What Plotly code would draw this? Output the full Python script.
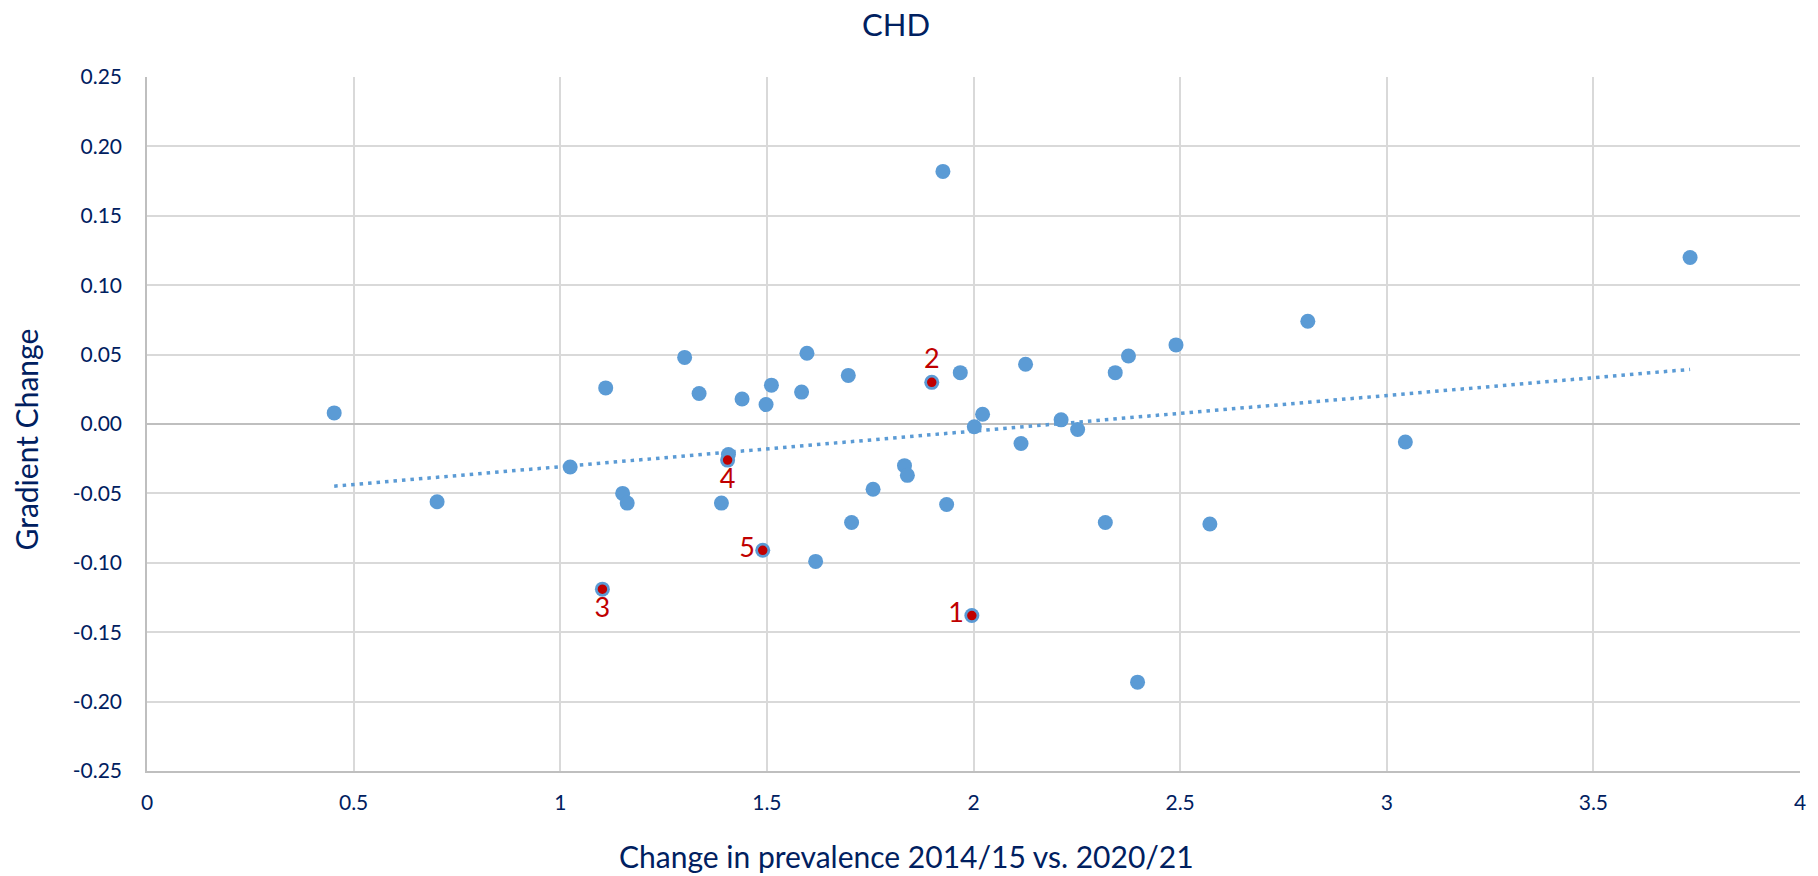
import numpy as np
import plotly.graph_objects as go

# prevalence change (x) vs gradient change (y)
x_vals = [0.453, 0.702, 1.024, 1.110, 1.151, 1.162, 1.301, 1.336, 1.390, 1.407,
          1.440, 1.498, 1.511, 1.584, 1.597, 1.618, 1.697, 1.705, 1.757, 1.833,
          1.840, 1.926, 1.935, 1.968, 2.002, 2.022, 2.115, 2.126, 2.212, 2.252,
          2.319, 2.343, 2.375, 2.397, 2.490, 2.572, 2.809, 3.045, 3.734,
          1.996, 1.899, 1.102, 1.405, 1.490]
y_vals = [0.008, -0.056, -0.031, 0.026, -0.050, -0.057, 0.048, 0.022, -0.057, -0.022,
          0.018, 0.014, 0.028, 0.023, 0.051, -0.099, 0.035, -0.071, -0.047, -0.030,
          -0.037, 0.182, -0.058, 0.037, -0.002, 0.007, -0.014, 0.043, 0.003, -0.004,
          -0.071, 0.037, 0.049, -0.186, 0.057, -0.072, 0.074, -0.013, 0.120,
          -0.138, 0.030, -0.119, -0.026, -0.091]

# highlighted points
hi_x = [1.996, 1.899, 1.102, 1.405, 1.490]
hi_y = [-0.138, 0.030, -0.119, -0.026, -0.091]
hi_labels = ["1", "2", "3", "4", "5"]
hi_pos = ["middle left", "top center", "bottom center", "bottom center", "middle left"]

x_ticks = [0, 0.5, 1, 1.5, 2, 2.5, 3, 3.5, 4]
y_ticks = [0.25, 0.20, 0.15, 0.10, 0.05, 0.00, -0.05, -0.10, -0.15, -0.20, -0.25]

blue = "#5B9BD5"
navy = "#002060"
red = "#C00000"
font = "Lato"

# linear trendline like excel
b, a = np.polyfit(x_vals, y_vals, deg=1)
xseq = np.linspace(min(x_vals), max(x_vals), 100)

fig = go.Figure()
fig.add_trace(go.Scatter(x=xseq, y=a + b * xseq, mode="lines",
                         line=dict(color=blue, width=3.5, dash="3.5px,5px"),
                         hoverinfo="skip"))
fig.add_trace(go.Scatter(x=x_vals, y=y_vals, mode="markers",
                         marker=dict(color=blue, size=15)))
fig.add_trace(go.Scatter(x=hi_x, y=hi_y, mode="markers+text",
                         marker=dict(color=red, size=11, line=dict(color=blue, width=1.5)),
                         text=hi_labels, textposition=hi_pos,
                         textfont=dict(family=font, size=27, color=red)))

# page body has an 8px margin, so the figure is 16px smaller than the window
fig.update_layout(
    width=1810, height=868,
    margin=dict(l=139, r=14, t=69, b=105),
    plot_bgcolor="white", paper_bgcolor="white",
    showlegend=False,
    font=dict(family=font, color=navy, size=21),
    annotations=[
        dict(text="CHD", xref="paper", yref="paper", x=(898 - 147) / 1657, y=1.077,
             xanchor="center", yanchor="middle", showarrow=False,
             font=dict(family=font, size=31, color=navy)),
        dict(text="Gradient Change", xref="paper", yref="paper", x=-0.0735, y=0.477,
             xanchor="center", yanchor="middle", textangle=-90, showarrow=False,
             font=dict(family=font, size=30, color=navy)),
        dict(text="Change in prevalence 2014/15 vs. 2020/21", xref="paper", yref="paper",
             x=0.4593, y=-0.122, xanchor="center", yanchor="middle", showarrow=False,
             font=dict(family=font, size=30, color=navy)),
    ],
)
fig.update_xaxes(range=[0, 4], tickvals=x_ticks, ticktext=[f"{t:g}" for t in x_ticks],
                 showgrid=True, gridcolor="#D9D9D9", gridwidth=1.5,
                 zeroline=False, showline=True, linecolor="#BFBFBF", linewidth=1.5,
                 ticks="", ticklabelstandoff=12)
fig.update_yaxes(range=[-0.25, 0.25], tickvals=y_ticks, ticktext=[f"{t:.2f}" for t in y_ticks],
                 showgrid=True, gridcolor="#D9D9D9", gridwidth=1.5,
                 zeroline=True, zerolinecolor="#BFBFBF", zerolinewidth=2,
                 showline=True, linecolor="#BFBFBF", linewidth=1.5,
                 ticks="", ticklabelstandoff=19)

fig.write_html("out.html")
